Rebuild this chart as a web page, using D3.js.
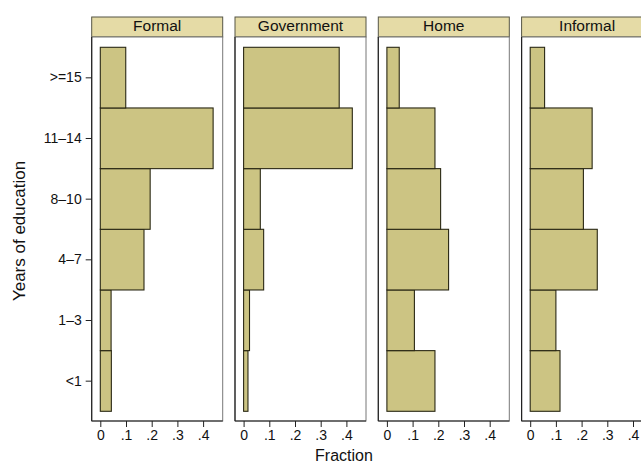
<!DOCTYPE html>
<html><head><meta charset="utf-8">
<script src="https://cdn.jsdelivr.net/npm/d3@7"></script>
<style>body{margin:0;background:#fff}svg{display:block;font-family:"Liberation Sans",Arial,sans-serif}</style>
</head><body>
<script>
const categories = ["<1","1–3","4–7","8–10","11–14",">=15"];
const panels = ["Formal","Government","Home","Informal"];
const formal = [0.043,0.042,0.170,0.194,0.439,0.099];
const government = [0.017,0.023,0.078,0.065,0.423,0.372];
const home = [0.187,0.107,0.240,0.209,0.187,0.048];
const informal = [0.116,0.100,0.261,0.207,0.241,0.056];
const xTicks = [0,0.1,0.2,0.3,0.4];
const xTickLabels = ["0",".1",".2",".3",".4"];

(function(){
const series = [formal, government, home, informal];
const W = 641, H = 466;
const svg = d3.select("body").append("svg").attr("width", W).attr("height", H);

const panelW = 131, pitch = 143.3, left0 = 91.7;
const plotTop = 37, plotBottom = 421, stripTop = 17;
const fill = "#ccc483", stroke = "#2a2814";
const ff = "Liberation Sans, Arial, sans-serif";

const y = d3.scaleBand().domain(categories).range([411.3, 47.3]).paddingInner(0).paddingOuter(0);
const yAxisScale = d3.scaleLinear().domain([-0.5 - 10/60.67, 5.5 + 10/60.67]).range([plotBottom, plotTop]);

panels.forEach((name, i) => {
  const x0 = left0 + i * pitch;
  const x = d3.scaleLinear().domain([0, 0.1]).range([x0 + 8.6, x0 + 8.6 + 25.7]);
  const g = svg.append("g");
  g.append("rect").attr("x", x0).attr("y", stripTop).attr("width", panelW).attr("height", plotTop - stripTop)
    .attr("fill", "#e5dba6").attr("stroke", "#555545").attr("stroke-width", 1);
  g.append("text").attr("x", x0 + panelW/2).attr("y", 30.5).attr("text-anchor", "middle")
    .attr("font-size", 15.5).attr("font-family", ff).attr("fill", "#111").text(name);
  g.append("rect").attr("x", x0).attr("y", plotTop).attr("width", panelW).attr("height", plotBottom - plotTop)
    .attr("fill", "#fff").attr("stroke", "#777").attr("stroke-width", 1);
  g.selectAll("rect.bar").data(categories.map((c, k) => ({c, v: series[i][k]})))
    .join("rect").attr("class", "bar")
    .attr("x", x(0)).attr("y", d => y(d.c)).attr("width", d => x(d.v) - x(0)).attr("height", y.bandwidth())
    .attr("fill", fill).attr("stroke", stroke).attr("stroke-width", 1.1);
  const ax = g.append("g").attr("transform", `translate(0,${plotBottom})`)
    .call(d3.axisBottom(x).tickValues(xTicks).tickFormat((d, k) => xTickLabels[k]).tickSize(6).tickPadding(3).tickSizeOuter(0));
  ax.attr("font-size", 14).attr("font-family", ff);
  ax.select(".domain").remove();
  ax.selectAll("line").attr("stroke", "#222");
  ax.selectAll("text").attr("fill", "#111");
  g.append("line").attr("x1", x0).attr("x2", x0 + panelW).attr("y1", plotBottom).attr("y2", plotBottom).attr("stroke", "#222").attr("stroke-width", 1.2);
  g.append("line").attr("x1", x0).attr("x2", x0).attr("y1", plotTop).attr("y2", plotBottom).attr("stroke", "#222").attr("stroke-width", 1.2);
  if (i === 0) {
    const ay = g.append("g").attr("transform", `translate(${x0},0)`)
      .call(d3.axisLeft(yAxisScale).tickValues(d3.range(6)).tickFormat(k => categories[k]).tickSize(6).tickPadding(4).tickSizeOuter(0));
    ay.attr("font-size", 14).attr("font-family", ff);
    ay.select(".domain").remove();
    ay.selectAll("line").attr("stroke", "#222");
    ay.selectAll("text").attr("fill", "#111");
  }
});

svg.append("text").attr("x", 344).attr("y", 461).attr("text-anchor", "middle").attr("font-size", 16).attr("font-family", ff).attr("fill", "#111").text("Fraction");
svg.append("text").attr("transform", "translate(25,231) rotate(-90)").attr("text-anchor", "middle").attr("font-size", 17).attr("font-family", ff).attr("fill", "#111").text("Years of education");
})();
</script>
</body></html>
